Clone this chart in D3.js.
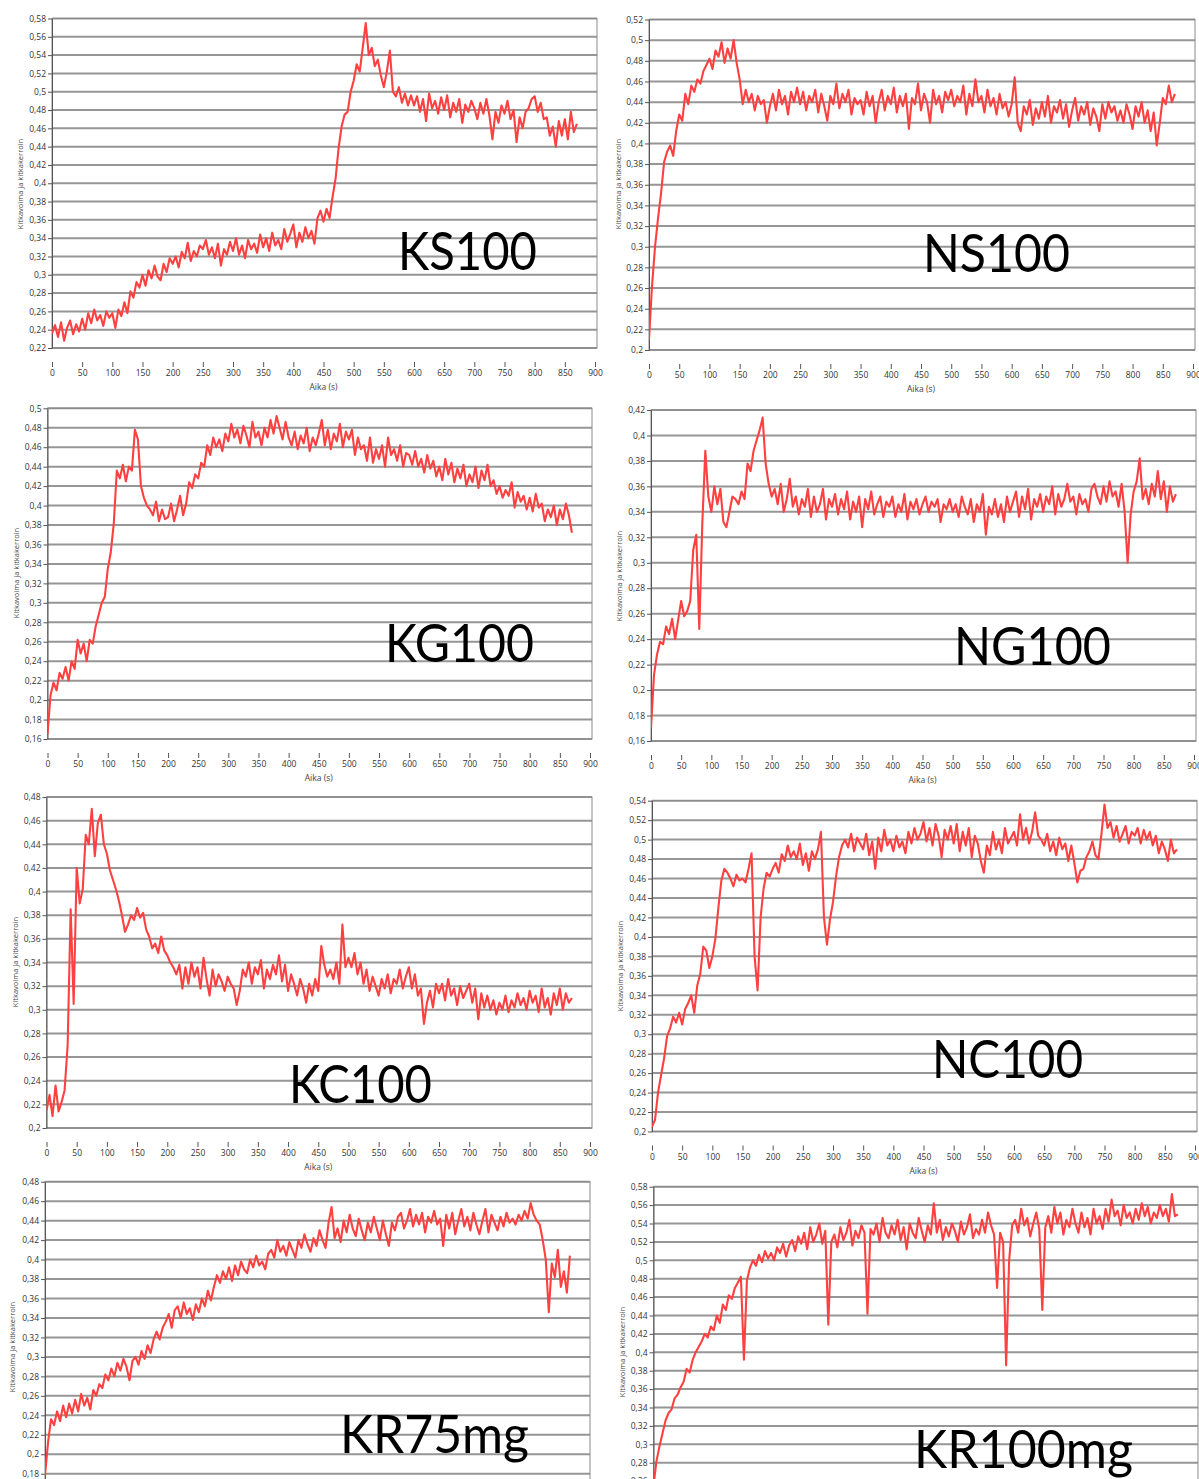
<!DOCTYPE html>
<html>
<head>
<meta charset="utf-8">
<script src="https://cdn.jsdelivr.net/npm/d3@7/dist/d3.min.js"></script>
<style>
  body { margin: 0; background: #fff; }
</style>
</head>
<body>
<div id="chart"></div>
<script>

var width = 1199,
    height = 1479;

// one sample every 5 s, 0 ... 870 s
var sampleStep = 5;
var xTicks = d3.range(0, 901, 50);
var yTitle = 'Kitkavoima ja kitkakerroin',
    xTitle = 'Aika (s)';

// friction coefficient, in thousandths
var ks100 = [
  236,245,232,248,228,242,250,235,246,238,
  252,240,258,247,262,250,256,244,260,253,
  258,242,262,255,270,258,282,275,292,286,
  300,288,305,296,310,298,294,312,303,318,
  312,320,308,325,318,335,315,326,320,332,
  328,338,322,330,318,334,310,328,322,336,
  326,340,322,332,318,338,328,334,324,344,
  330,340,326,346,332,338,328,350,336,345,
  355,330,346,336,352,340,348,334,362,370,
  358,372,362,385,405,438,462,475,478,500,
  512,530,522,548,575,540,548,528,535,518,
  505,522,545,500,495,505,488,498,485,496,
  485,495,478,492,468,498,482,490,476,494,
  480,496,472,488,478,492,466,486,478,490,
  482,470,488,476,492,474,448,478,466,485,
  476,490,470,480,445,472,460,478,482,492,
  495,478,488,470,472,452,462,440,468,452,
  470,448,478,456,465];

var ns100 = [
  210,262,300,328,352,382,392,398,388,412,
  428,422,448,438,456,450,462,458,470,476,
  482,472,490,484,498,478,492,482,500,478,
  462,438,452,440,448,432,446,438,442,420,
  436,448,432,452,438,446,428,450,440,454,
  438,450,432,446,440,452,430,448,436,422,
  446,438,458,434,448,440,452,428,444,438,
  442,428,450,436,446,420,440,452,432,446,
  438,454,430,446,436,448,414,444,438,458,
  432,448,440,420,452,438,446,430,450,442,
  452,436,446,440,456,428,448,436,462,440,
  446,430,452,436,444,428,448,434,440,426,
  438,464,420,412,436,428,442,418,434,424,
  440,426,446,420,436,430,442,424,438,416,
  432,444,422,436,428,440,418,434,426,412,
  438,424,440,430,436,422,432,420,438,428,
  414,436,426,440,420,432,412,430,398,420,
  444,438,456,440,448];

var kg100 = [
  165,205,218,210,228,222,234,220,240,232,
  262,248,258,240,262,258,276,288,300,306,
  335,352,382,436,428,442,425,440,436,478,
  468,420,408,400,396,390,404,384,396,386,
  388,402,384,396,410,390,402,424,418,432,
  428,444,440,462,452,470,460,468,456,474,
  466,484,470,478,464,482,472,460,486,470,
  476,462,480,470,488,474,492,480,468,486,
  470,462,476,458,472,464,480,456,470,462,
  474,488,462,478,458,474,466,484,460,476,
  468,478,452,470,458,462,446,470,444,458,
  448,462,440,470,452,458,446,462,440,454,
  452,442,456,440,448,434,452,438,446,430,
  440,426,448,432,444,424,438,428,442,420,
  432,424,440,418,436,426,442,420,426,412,
  420,408,416,410,424,398,414,404,410,396,
  408,394,412,398,402,384,396,388,400,380,
  396,386,402,390,372];

var ng100 = [
  170,212,228,238,236,250,244,256,240,255,
  270,258,262,270,310,322,248,330,388,352,
  340,360,346,358,332,328,340,352,350,346,
  356,350,378,372,388,396,404,414,378,362,
  352,358,346,362,340,350,366,344,352,338,
  350,344,358,336,352,340,346,358,334,350,
  344,354,338,350,342,356,334,348,340,352,
  328,350,342,356,338,346,352,336,348,344,
  352,336,346,340,354,334,348,342,350,338,
  346,352,340,348,344,350,332,346,342,350,
  340,346,336,352,344,338,350,332,346,340,
  354,322,344,338,350,336,346,332,352,340,
  348,356,336,352,342,358,334,350,344,354,
  340,352,346,360,338,354,344,350,362,348,
  352,338,354,346,350,340,358,362,352,346,
  360,348,364,352,356,344,362,340,300,338,
  356,364,382,350,358,346,362,352,372,350,
  364,340,360,348,354];

var kc100 = [
  215,228,210,236,214,222,232,270,385,305,
  420,390,402,448,440,470,430,458,465,440,
  432,418,410,402,392,380,366,372,380,376,
  386,378,382,368,362,352,356,348,362,350,
  346,340,336,330,338,318,336,322,340,328,
  336,318,344,326,312,334,320,330,324,316,
  328,322,318,304,316,334,328,340,322,336,
  330,342,318,334,326,338,330,346,324,338,
  316,330,322,312,326,318,306,322,312,326,
  316,354,338,328,334,326,340,322,372,336,
  344,336,348,330,340,322,334,316,328,320,
  312,326,318,330,314,326,322,334,318,328,
  336,318,330,312,318,288,306,316,302,322,
  314,322,308,326,312,318,304,320,310,316,
  322,306,318,292,314,302,312,300,308,296,
  306,300,312,298,308,302,314,304,310,300,
  316,306,312,298,318,302,310,296,314,304,
  318,300,314,306,310];

var nc100 = [
  205,212,240,258,275,298,306,318,312,322,
  310,326,332,340,322,350,362,390,386,368,
  380,398,430,458,470,466,460,452,464,458,
  460,456,470,486,380,345,420,450,466,462,
  470,476,466,485,478,494,482,488,480,496,
  474,486,468,488,480,490,508,420,392,418,
  436,462,482,494,500,492,506,488,502,496,
  490,506,484,498,470,502,488,510,494,500,
  488,504,492,498,486,508,496,512,500,506,
  518,498,512,494,516,504,482,510,500,514,
  496,516,488,508,494,512,482,504,496,478,
  466,494,484,508,490,500,486,512,496,502,
  508,494,526,500,512,496,508,528,504,500,
  494,506,488,498,484,502,490,496,478,494,
  476,456,468,470,482,488,498,484,480,506,
  536,512,518,502,514,498,506,514,496,508,
  504,512,496,510,500,508,494,504,486,498,
  490,478,500,486,490];

var kr75mg = [
  178,212,236,230,244,234,250,238,252,242,
  256,244,262,250,258,246,266,260,272,268,
  282,276,288,280,294,286,298,290,276,296,
  300,292,306,298,312,304,318,326,318,330,
  336,344,330,348,352,340,356,344,350,338,
  354,346,360,352,368,358,372,384,376,388,
  380,392,378,394,384,398,390,386,400,392,
  404,394,398,390,406,410,402,420,408,414,
  404,418,410,402,420,412,426,416,408,422,
  414,430,420,412,438,454,422,432,418,440,
  428,446,432,424,442,430,420,438,428,444,
  432,420,440,426,414,438,430,444,448,432,
  440,452,434,446,436,448,428,444,438,450,
  436,442,414,446,432,448,426,440,452,434,
  444,430,448,436,426,440,452,428,446,438,
  430,444,434,448,438,442,436,446,440,450,
  442,458,446,440,436,420,400,346,396,382,
  410,372,388,366,404];

var kr100mg = [
  255,282,298,312,326,334,338,350,354,362,
  368,382,378,392,400,406,412,420,416,428,
  424,440,432,452,446,462,458,470,476,482,
  392,478,492,500,494,506,498,510,502,508,
  500,514,508,518,504,516,522,510,526,518,
  530,512,536,520,528,540,518,532,430,520,
  528,514,536,522,530,544,516,532,524,538,
  530,442,534,528,540,520,546,530,524,538,
  528,544,522,536,512,540,530,524,546,532,
  520,538,528,562,530,544,522,536,526,540,
  532,520,542,528,536,550,524,534,528,544,
  530,552,538,528,470,530,520,386,500,538,
  544,530,556,538,546,526,540,552,534,446,
  536,548,530,558,540,552,528,544,536,556,
  540,530,552,536,546,528,556,540,548,534,
  556,542,566,548,554,538,560,546,552,540,
  556,544,562,548,558,540,552,546,560,548,
  556,542,572,548,550];

// layout of the eight screenshots
var panels = [
  { name: 'KS100',   data: ks100,   yMin: .22, yMax: .58, x0: 52,  x1: 595,  yTop: 18.5,   yBot: 348,    titleX: 20,  titleY: 184,  labelX: 398, labelY: 270,  labelW: 139 },
  { name: 'NS100',   data: ns100,   yMin: .20, yMax: .52, x0: 649, x1: 1193, yTop: 19.5,   yBot: 350,    titleX: 618, titleY: 184,  labelX: 923, labelY: 272,  labelW: 147 },
  { name: 'KG100',   data: kg100,   yMin: .16, yMax: .50, x0: 47.5,x1: 590,  yTop: 408.3,  yBot: 739,    titleX: 16,  titleY: 573,  labelX: 385, labelY: 662,  labelW: 149 },
  { name: 'NG100',   data: ng100,   yMin: .16, yMax: .42, x0: 651, x1: 1194, yTop: 410,    yBot: 741,    titleX: 619, titleY: 576,  labelX: 954, labelY: 665,  labelW: 157 },
  { name: 'KC100',   data: kc100,   yMin: .20, yMax: .48, x0: 46.5,x1: 590,  yTop: 797,    yBot: 1128,   titleX: 15,  titleY: 962,  labelX: 289, labelY: 1103, labelW: 143 },
  { name: 'NC100',   data: nc100,   yMin: .20, yMax: .54, x0: 652, x1: 1195, yTop: 800.7,  yBot: 1131.5, titleX: 620, titleY: 966,  labelX: 932, labelY: 1078, labelW: 151 },
  { name: 'KR75mg',  data: kr75mg,  yMin: .16, yMax: .48, x0: 45,  x1: 588,  yTop: 1181.7, yBot: 1493.2, titleX: 12,  titleY: 1347, labelX: 340, labelY: 1453, labelW: 189 },
  { name: 'KR100mg', data: kr100mg, yMin: .24, yMax: .58, x0: 653.5,x1: 1196,yTop: 1186.7, yBot: 1499.5, titleX: 622, titleY: 1352, labelX: 914, labelY: 1468, labelW: 219 }
];

var svg = d3.select("#chart").append("svg")
    .attr("width", width)
    .attr("height", height)
    .style("font-family", "'Open Sans', sans-serif");

svg.append("rect").attr("width", width).attr("height", height).attr("fill", "#fff");

var fmtComma = function(d) { return String(+d.toFixed(2)).replace('.', ','); };

panels.forEach(function(p, i) {

  var x = d3.scaleLinear().domain([0, 900]).range([p.x0, p.x1]);
  var y = d3.scaleLinear().domain([p.yMin, p.yMax]).range([p.yBot, p.yTop]);
  var yTicks = d3.range(Math.round(p.yMin * 100), Math.round(p.yMax * 100) + 1, 2)
      .map(function(v) { return v / 100; });

  var g = svg.append("g").attr("class", "panel");

  g.append("clipPath").attr("id", "clip" + i)
    .append("rect")
      .attr("x", p.x0).attr("y", p.yTop)
      .attr("width", p.x1 + 2 - p.x0).attr("height", p.yBot - p.yTop);

  // gridlines
  g.selectAll(".grid")
    .data(yTicks)
    .enter().append("line")
      .attr("class", "grid")
      .attr("x1", p.x0).attr("x2", p.x1 + 2)
      .attr("y1", function(d) { return y(d); })
      .attr("y2", function(d) { return y(d); })
      .attr("stroke", "#969696")
      .attr("stroke-width", 2);

  // frame
  g.append("rect")
    .attr("x", p.x0).attr("y", p.yTop)
    .attr("width", p.x1 + 2 - p.x0).attr("height", p.yBot - p.yTop)
    .attr("fill", "none")
    .attr("stroke", "#8a8a8a")
    .attr("stroke-width", 1);

  // y axis
  var yAxis = g.append("g")
    .attr("transform", "translate(" + p.x0 + ",0)")
    .call(d3.axisLeft(y).tickValues(yTicks).tickSize(4).tickSizeOuter(0).tickPadding(2).tickFormat(fmtComma));
  yAxis.select(".domain").attr("stroke", "#555");
  yAxis.selectAll(".tick line").attr("stroke", "#555");
  yAxis.selectAll(".tick text")
    .attr("fill", "#333")
    .style("font-size", "8.5px")
    .style("font-family", "'Open Sans', sans-serif");

  // x axis, detached below the plot
  var xAxis = g.append("g")
    .attr("transform", "translate(0," + (p.yBot + 14) + ")")
    .call(d3.axisBottom(x).tickValues(xTicks).tickSize(5).tickPadding(3).tickFormat(d3.format("d")));
  xAxis.select(".domain").remove();
  xAxis.selectAll(".tick line").attr("stroke", "#555");
  xAxis.selectAll(".tick text")
    .attr("fill", "#333")
    .style("font-size", "8.5px")
    .style("font-family", "'Open Sans', sans-serif");

  g.append("text")
    .attr("x", (p.x0 + p.x1) / 2)
    .attr("y", p.yBot + 42)
    .attr("text-anchor", "middle")
    .attr("fill", "#444")
    .style("font-size", "8.5px")
    .text(xTitle);

  g.append("text")
    .attr("transform", "translate(" + p.titleX + "," + p.titleY + ") rotate(-90)")
    .attr("text-anchor", "middle")
    .attr("dy", "0.35em")
    .attr("fill", "#444")
    .style("font-size", "7.5px")
    .text(yTitle);

  // the measured curve
  var line = d3.line()
    .x(function(d, k) { return x(k * sampleStep); })
    .y(function(d) { return y(d / 1000); });

  g.append("path")
    .datum(p.data)
    .attr("clip-path", "url(#clip" + i + ")")
    .attr("fill", "none")
    .attr("stroke", "#ff4040")
    .attr("stroke-width", 2.1)
    .attr("stroke-linejoin", "round")
    .attr("d", line);

  // sample name
  g.append("text")
    .attr("x", p.labelX)
    .attr("y", p.labelY)
    .attr("textLength", p.labelW)
    .attr("lengthAdjust", "spacingAndGlyphs")
    .attr("fill", "#000")
    .style("font-family", "Lato, 'Open Sans', sans-serif")
    .style("font-size", "52px")
    .text(p.name);
});

</script>
</body>
</html>
